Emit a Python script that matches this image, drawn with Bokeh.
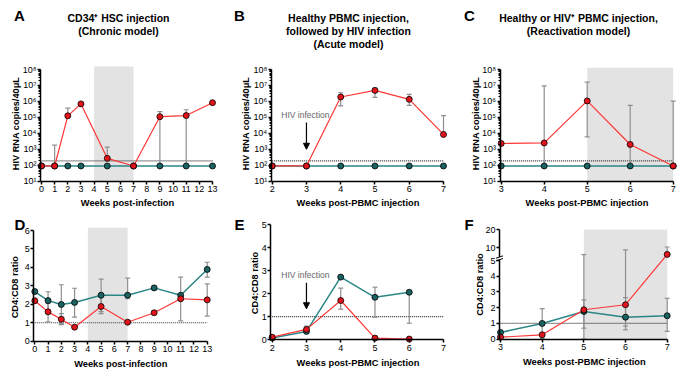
import math
from bokeh.plotting import figure
from bokeh.layouts import row, column
from bokeh.models import Label, Arrow, NormalHead, FixedTicker, Range1d, CustomJSTickFormatter
from bokeh.embed import file_html
from bokeh.resources import INLINE

FONT = "Liberation Sans"
RED_LINE = "#ff3636"
RED_FILL = "#e0141a"
TEAL_LINE = "#2b8686"
TEAL_FILL = "#1b6262"
ERR = "#8f8f8f"
BAND = "#e3e3e3"

# ---------------- data ----------------
# Panel A: CD34+ HSC (chronic) - HIV RNA copies/40uL
a_weeks = [0, 1, 2, 3, 5, 7, 9, 11, 13]
a_infected = [90, 90, 1.25e5, 7.0e5, 270, 90, 1.1e5, 1.3e5, 8.3e5]
a_inf_lo = [90, 90, 1.25e5, 6.0e5, 270, 90, 90, 90, 8.3e5]
a_inf_hi = [90, 1.8e3, 3.8e5, 8.5e5, 1.35e3, 90, 2.3e5, 3.0e5, 8.3e5]
a_control = [90, 90, 90, 90, 90, 90, 90, 90, 90]
a_band = [4, 7]

# Panel B: acute model
b_weeks = [2, 3, 4, 5, 6, 7]
b_infected = [90, 90, 1.9e6, 4.9e6, 1.35e6, 8.5e3]
b_inf_lo = [90, 90, 5.2e5, 1.8e6, 5.6e5, 8.5e3]
b_inf_hi = [90, 90, 3.5e6, 6.8e6, 2.8e6, 1.3e5]
b_control = [90, 90, 90, 90, 90, 90]

# Panel C: reactivation model
c_weeks = [3, 4, 5, 6, 7]
c_infected = [2.3e3, 2.5e3, 1.07e6, 2.0e3, 90]
c_inf_lo = [2.3e3, 90, 6.0e3, 90, 90]
c_inf_hi = [2.3e3, 9.3e6, 1.6e7, 5.6e5, 1.05e6]
c_control = [90, 90, 90, 90, 90]
c_band = [5, 7]

detect_limit = 190
log_ticks = [1e1, 1e2, 1e3, 1e4, 1e5, 1e6, 1e7, 1e8]

# Panel D: CD4:CD8 ratio, chronic
d_weeks = [0, 1, 2, 3, 5, 7, 9, 11, 13]
d_control = [2.69, 2.2, 1.99, 2.1, 2.49, 2.49, 2.89, 2.49, 3.89]
d_ctrl_lo = [2.69, 1.7, 0.95, 1.3, 1.6, 2.3, 2.8, 1.1, 3.47]
d_ctrl_hi = [2.69, 2.68, 3.06, 2.87, 3.36, 3.42, 2.98, 3.47, 4.28]
d_infected = [2.19, 1.59, 1.19, 0.76, 1.88, 1.03, 1.54, 2.3, 2.24]
d_inf_lo = [2.19, 1.05, 0.9, 0.72, 1.5, 0.95, 1.45, 2.2, 1.36]
d_inf_hi = [2.19, 2.05, 1.5, 0.82, 2.6, 1.12, 1.64, 2.4, 3.11]
d_band = [4, 7]

# Panel E: acute
e_weeks = [2, 3, 4, 5, 6]
e_control = [0.07, 0.35, 2.72, 1.84, 2.06]
e_ctrl_lo = [0.07, 0.3, 2.72, 0.97, 0.71]
e_ctrl_hi = [0.07, 0.4, 2.72, 2.28, 2.06]
e_infected = [0.1, 0.44, 1.7, 0.06, 0.02]
e_inf_lo = [0.1, 0.3, 1.32, 0.02, 0.02]
e_inf_hi = [0.1, 0.58, 2.24, 0.1, 0.02]

# Panel F: reactivation
f_weeks = [3, 4, 5, 6, 7]
f_control = [0.43, 1.0, 1.76, 1.4, 1.49]
f_ctrl_lo = [0.3, 0.05, 0.7, 0.83, 0.5]
f_ctrl_hi = [0.55, 1.94, 2.5, 2.64, 2.6]
f_infected = [0.13, 0.28, 1.87, 2.19, 6.2]
f_inf_lo = [0.05, 0.2, 0.0, 0.6, 6.2]
f_inf_hi = [0.2, 0.35, 6.1, 8.7, 10.3]
f_band = [5, 7]
f_ticks = [0, 1, 2, 3, 4, 5, 10, 20]

ratio_limit = 1

# broken axis for panel F: linear 0-5, compressed 5-20
SEG_BASE = 5.25
SEG_SCALE = 0.1146


def fdisp(v):
    return v if v <= 5 else SEG_BASE + (v - 5) * SEG_SCALE


LOG_FMT = CustomJSTickFormatter(code="""
const s = {'0':'\u2070','1':'\u00b9','2':'\u00b2','3':'\u00b3','4':'\u2074','5':'\u2075','6':'\u2076','7':'\u2077','8':'\u2078','9':'\u2079'};
const e = Math.round(Math.log10(tick));
return '10' + String(e).split('').map(c => s[c]).join('');
""")


class Panel:
    """A figure whose frame covers the whole canvas; axes are placed with fixed_location."""

    def __init__(self, w, h, left, top, xcal, ycal, log=False):
        (xv0, xp0), (xv1, xp1) = xcal
        (yv0, yp0), (yv1, yp1) = ycal
        if log:
            yv0, yv1 = math.log10(yv0), math.log10(yv1)
        self.kx = (xp1 - xp0) / (xv1 - xv0)
        self.ky = (yp0 - yp1) / (yv1 - yv0)
        self.xv0, self.xp0, self.yv0, self.yp0 = xv0, xp0, yv0, yp0
        self.left, self.top, self.w, self.h, self.log = left, top, w, h, log
        xs, xe = self.xd(left), self.xd(left + w)
        ys, ye = self.yd(top + h), self.yd(top)
        self.p = figure(width=w, height=h, x_range=Range1d(xs, xe), y_range=Range1d(ys, ye),
                        y_axis_type="log" if log else "linear", output_backend="svg",
                        toolbar_location=None, title=None, min_border=0,
                        min_border_left=0, min_border_right=0, min_border_top=0, min_border_bottom=0)
        p = self.p
        p.grid.visible = False
        p.outline_line_color = None
        for ax in p.axis:
            ax.axis_line_width = 1.5
            ax.axis_line_color = "black"
            ax.major_tick_line_width = 1.5
            ax.major_tick_out = 3
            ax.major_tick_in = 0
            ax.minor_tick_out = 0
            ax.minor_tick_in = 0
            ax.major_label_text_font = FONT
            ax.major_label_text_font_size = "9px"
            ax.major_label_text_color = "black"
            ax.major_label_standoff = 1
        p.xaxis.major_label_standoff = 2
        if log:
            p.yaxis.ticker = FixedTicker(ticks=log_ticks,
                                         minor_ticks=[m * t for t in log_ticks[:-1] for m in range(2, 10)])
            p.yaxis.formatter = LOG_FMT
            p.yaxis.minor_tick_out = 2
            p.yaxis.minor_tick_line_width = 1

    def xd(self, px):
        return self.xv0 + (px - self.xp0) / self.kx

    def yd(self, py):
        v = self.yv0 + (self.yp0 - py) / self.ky
        return 10 ** v if self.log else v

    def axes(self, yaxis_px, xaxis_val, xmax, ymin, ymax, xticks, yticks=None):
        p = self.p
        xa = self.xd(yaxis_px)
        p.yaxis.fixed_location = xa
        p.xaxis.fixed_location = xaxis_val
        p.xaxis.bounds = (xa, xmax)
        p.yaxis.bounds = (ymin, ymax)
        p.xaxis.ticker = FixedTicker(ticks=xticks)
        if yticks is not None:
            p.yaxis.ticker = FixedTicker(ticks=yticks)
        return xa

    def txt(self, px, py, text, size, bold=False, angle=0.0, color="black"):
        self.p.add_layout(Label(x=px - self.left, y=self.top + self.h - py, x_units="screen", y_units="screen",
                                text=text, text_font=FONT, text_font_size=f"{size}px",
                                text_font_style="bold" if bold else "normal",
                                text_color=color, text_align="center", text_baseline="middle", angle=angle))


def errbars(p, xs, ys, lo, hi):
    ex = [x for x, l, h in zip(xs, lo, hi) if h > l]
    el = [l for x, l, h in zip(xs, lo, hi) if h > l]
    eh = [h for x, l, h in zip(xs, lo, hi) if h > l]
    if ex:
        p.segment(x0=ex, y0=el, x1=ex, y1=eh, line_color=ERR, line_width=1.2)
    hx = [x for x, y, h in zip(xs, ys, hi) if h > y]
    hy = [h for x, y, h in zip(xs, ys, hi) if h > y]
    lx = [x for x, y, l in zip(xs, ys, lo) if l < y]
    ly = [l for x, y, l in zip(xs, ys, lo) if l < y]
    if hx:
        p.scatter(hx, hy, marker="dash", size=5, line_color=ERR, line_width=1.2)
    if lx:
        p.scatter(lx, ly, marker="dash", size=5, line_color=ERR, line_width=1.2)


def series(p, xs, ys, lc, fc, lw):
    p.line(xs, ys, line_color=lc, line_width=lw)
    p.scatter(xs, ys, size=6, fill_color=fc, line_color="black", line_width=0.8)


def limit_line(p, x0, x1, yv):
    p.segment(x0=[x0], y0=[yv], x1=[x1], y1=[yv], line_color="#333333", line_width=1.2, line_dash="1 1")


def band(p, b, y0, y1):
    p.quad(left=[b[0]], right=[b[1]], bottom=[y0], top=[y1], fill_color=BAND, line_color=None)


def hiv_arrow(p, xv, ys, ye, ty):
    p.add_layout(Arrow(end=NormalHead(size=6, fill_color="black", line_color="black", line_width=1),
                       x_start=xv, y_start=ys, x_end=xv, y_end=ye, line_color="black", line_width=1.2))
    p.add_layout(Label(x=xv - 0.03, y=ty, text="HIV infection", text_font=FONT, text_font_size="8.5px",
                       text_color="#666666", text_align="center", text_baseline="middle"))


TOP_Y = ((1e1, 180.7), (1e8, 69.0))

# column boundaries (px): A/D 0-232, B/E 232-462, C/F 462-700
# ---------------- Panel A ----------------
A = Panel(232, 212, 0, 0, ((0, 41.0), (13, 212.0)), TOP_Y, log=True)
pA = A.p
A.axes(40.0, 1e1, 13, 1e1, 1e8, list(range(0, 14)))
band(pA, a_band, 1e1, A.yd(66))
limit_line(pA, a_weeks[0], a_weeks[-1], detect_limit)
errbars(pA, a_weeks, a_infected, a_inf_lo, a_inf_hi)
series(pA, a_weeks, a_control, TEAL_LINE, TEAL_FILL, 1.5)
series(pA, a_weeks, a_infected, RED_LINE, RED_FILL, 1.2)
A.txt(19, 15, "A", 15, bold=True)
A.txt(118, 17, "CD34\u207a HSC injection", 10.5, bold=True)
A.txt(118, 30, "(Chronic model)", 10.5, bold=True)
A.txt(127, 202, "Weeks post-infection", 9.3, bold=True)
A.txt(15, 123, "HIV RNA copies/40\u03bcL", 9.2, bold=True, angle=math.pi / 2)

# ---------------- Panel B ----------------
B = Panel(230, 212, 232, 0, ((2, 271.7), (7, 443.0)), TOP_Y, log=True)
pB = B.p
B.axes(270.7, 1e1, 7, 1e1, 1e8, list(range(2, 8)))
limit_line(pB, b_weeks[0], b_weeks[-1], detect_limit)
errbars(pB, b_weeks, b_infected, b_inf_lo, b_inf_hi)
series(pB, b_weeks, b_control, TEAL_LINE, TEAL_FILL, 1.5)
series(pB, b_weeks, b_infected, RED_LINE, RED_FILL, 1.2)
hiv_arrow(pB, 3, 4.8e4, 1.0e3, 1.4e5)
B.txt(239, 15, "B", 15, bold=True)
B.txt(348, 17, "Healthy PBMC injection,", 10.5, bold=True)
B.txt(348, 30, "followed by HIV infection", 10.5, bold=True)
B.txt(348, 43.5, "(Acute model)", 10.5, bold=True)
B.txt(357.5, 202, "Weeks post-PBMC injection", 9.3, bold=True)
B.txt(245, 123, "HIV RNA copies/40\u03bcL", 9.2, bold=True, angle=math.pi / 2)

# ---------------- Panel C ----------------
C = Panel(238, 212, 462, 0, ((3, 500.7), (7, 672.7)), TOP_Y, log=True)
pC = C.p
C.axes(499.5, 1e1, 7, 1e1, 1e8, list(range(3, 8)))
band(pC, c_band, 1e1, C.yd(67.3))
limit_line(pC, c_weeks[0], c_weeks[-1], detect_limit)
errbars(pC, c_weeks, c_infected, c_inf_lo, c_inf_hi)
series(pC, c_weeks, c_control, TEAL_LINE, TEAL_FILL, 1.5)
series(pC, c_weeks, c_infected, RED_LINE, RED_FILL, 1.2)
C.txt(469, 15, "C", 15, bold=True)
C.txt(578, 17, "Healthy or HIV\u207a PBMC injection,", 10.5, bold=True)
C.txt(578, 30, "(Reactivation model)", 10.5, bold=True)
C.txt(586.5, 202, "Weeks post-PBMC injection", 9.3, bold=True)
C.txt(475, 123, "HIV RNA copies/40\u03bcL", 9.2, bold=True, angle=math.pi / 2)

# ---------------- Panel D ----------------
D = Panel(232, 167, 0, 212, ((0, 34.3), (13, 206.7)), ((0, 340.7), (6, 230.0)))
pD = D.p
D.axes(33.3, 0, 13, 0, 6, list(range(0, 14)), list(range(0, 7)))
band(pD, d_band, 0, D.yd(227.3))
limit_line(pD, d_weeks[0], d_weeks[-1], ratio_limit)
errbars(pD, d_weeks, d_control, d_ctrl_lo, d_ctrl_hi)
errbars(pD, d_weeks, d_infected, d_inf_lo, d_inf_hi)
series(pD, d_weeks, d_control, TEAL_LINE, TEAL_FILL, 1.5)
series(pD, d_weeks, d_infected, RED_LINE, RED_FILL, 1.2)
D.txt(19.5, 224, "D", 15, bold=True)
D.txt(120.3, 363, "Weeks post-infection", 9.3, bold=True)
D.txt(14.5, 286.7, "CD4:CD8 ratio", 9.2, bold=True, angle=math.pi / 2)

# ---------------- Panel E ----------------
E = Panel(230, 167, 232, 212, ((2, 271.7), (7, 443.0)), ((0, 339.0), (5, 224.3)))
pE = E.p
E.axes(270.3, 0, 7, 0, 5, list(range(2, 8)), list(range(0, 6)))
limit_line(pE, 2, 7, ratio_limit)
errbars(pE, e_weeks, e_control, e_ctrl_lo, e_ctrl_hi)
errbars(pE, e_weeks, e_infected, e_inf_lo, e_inf_hi)
series(pE, e_weeks, e_control, TEAL_LINE, TEAL_FILL, 1.5)
series(pE, e_weeks, e_infected, RED_LINE, RED_FILL, 1.2)
hiv_arrow(pE, 3, 2.47, 1.34, 2.83)
E.txt(239, 224, "E", 15, bold=True)
E.txt(357.5, 362.3, "Weeks post-PBMC injection", 9.3, bold=True)
E.txt(254.3, 282.5, "CD4:CD8 ratio", 9.2, bold=True, angle=math.pi / 2)

# ---------------- Panel F ----------------
F = Panel(238, 167, 462, 212, ((3, 500.0), (7, 666.7)), ((0, 338.7), (5, 260.0)))
pF = F.p
fxa = F.axes(499.0, 0, 7, 0, fdisp(20), list(range(3, 8)), [round(fdisp(v), 3) for v in f_ticks])
pF.yaxis.formatter = CustomJSTickFormatter(code="""
if (tick > 5.5) { return tick < 6.5 ? '10' : '20'; }
return tick.toFixed(0);
""")
pF.yaxis.axis_line_color = None
band(pF, f_band, 0, fdisp(20))
limit_line(pF, 3, 7, ratio_limit)
errbars(pF, f_weeks, [fdisp(v) for v in f_control], [fdisp(v) for v in f_ctrl_lo], [fdisp(v) for v in f_ctrl_hi])
errbars(pF, f_weeks, [fdisp(v) for v in f_infected], [fdisp(v) for v in f_inf_lo], [fdisp(v) for v in f_inf_hi])
series(pF, f_weeks, [fdisp(v) for v in f_control], TEAL_LINE, TEAL_FILL, 1.5)
series(pF, f_weeks, [fdisp(v) for v in f_infected], RED_LINE, RED_FILL, 1.2)
# broken y axis line with break marks
pF.segment(x0=[fxa, fxa], y0=[0, 5.22], x1=[fxa, fxa], y1=[5.05, fdisp(20)], line_color="black", line_width=1.5)
dx, dy = 3.5 / F.kx, 1.2 / F.ky
pF.segment(x0=[fxa - dx, fxa - dx], y0=[5.05 - dy, 5.22 - dy], x1=[fxa + dx, fxa + dx], y1=[5.05 + dy, 5.22 + dy],
           line_color="black", line_width=1.0)
F.txt(468.5, 224, "F", 15, bold=True)
F.txt(583.8, 361.7, "Weeks post-PBMC injection", 9.3, bold=True)
F.txt(479, 284, "CD4:CD8 ratio", 9.2, bold=True, angle=math.pi / 2)

layout = column(row(pA, pB, pC), row(pD, pE, pF))
open("out.html", "w").write(file_html(layout, INLINE))
